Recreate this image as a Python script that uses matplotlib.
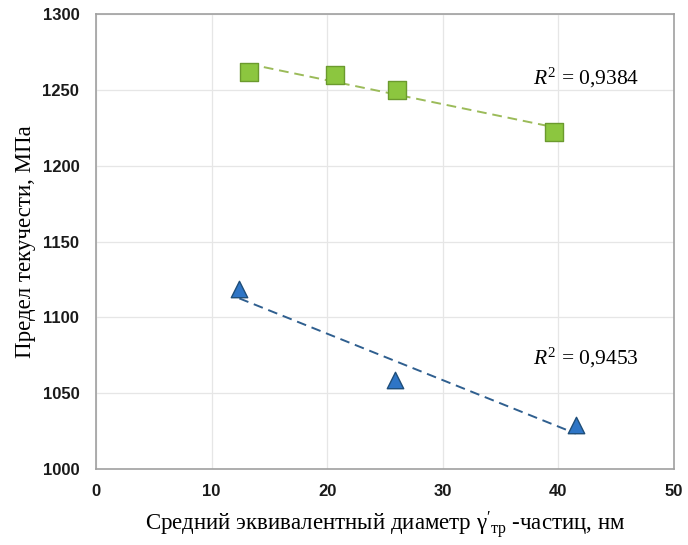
import numpy as np
import matplotlib
matplotlib.use("Agg")
import matplotlib.pyplot as plt

plt.rcParams["mathtext.fontset"] = "custom"
plt.rcParams["mathtext.rm"] = "Liberation Serif"
plt.rcParams["mathtext.it"] = "Liberation Serif:italic"

# Yield strength vs. mean equivalent diameter of gamma'-particles
green_x = [13.2, 20.7, 26.0, 39.6]
green_y = [1262, 1260, 1250, 1222.5]
green_r2 = "0,9384"

blue_x = [12.4, 25.9, 41.5]
blue_y = [1119, 1059, 1029]
blue_r2 = "0,9453"

x_ticks = [0, 10, 20, 30, 40, 50]
y_ticks = [1000, 1050, 1100, 1150, 1200, 1250, 1300]

fig = plt.figure(figsize=(6.88, 5.45), dpi=100)
ax = fig.add_axes([96 / 688, 1 - 469 / 545, (674 - 96) / 688, (469 - 14) / 545])

ax.set_xlim(0, 50)
ax.set_ylim(1000, 1300)
ax.set_xticks(x_ticks)
ax.set_yticks(y_ticks)
ax.grid(True, color="#e6e6e6", linewidth=0.9)
ax.set_axisbelow(True)
for s in ax.spines.values():
    s.set_color("#a0a0a0")
    s.set_linewidth(1.2)
ax.tick_params(axis="x", length=0, pad=11)
ax.tick_params(axis="y", length=0, pad=12)
for lab in ax.get_xticklabels() + ax.get_yticklabels():
    lab.set_fontfamily("Liberation Sans")
    lab.set_fontweight("bold")
    lab.set_fontsize(12)
    lab.set_color("#1a1a1a")

# linear trend lines
for xs, ys, col in [(green_x, green_y, "#9bbb59"), (blue_x, blue_y, "#2f5f8f")]:
    k, b = np.polyfit(xs, ys, 1)
    xx = np.array([min(xs), max(xs)])
    ax.plot(xx, k * xx + b, linestyle=(0, (5, 3)), color=col, linewidth=1.4, zorder=2)

ax.scatter(green_x, green_y, marker="s", s=150, facecolor="#8cc63f",
           edgecolor="#6b9a2e", linewidth=1.0, zorder=3)
ax.scatter(blue_x, blue_y, marker="^", s=140, facecolor="#2e75c6",
           edgecolor="#1f4e79", linewidth=1.0, zorder=3)

ax.text(37.8, 1258, r"$R^2$" + " = " + green_r2, fontsize=15.5,
        family="Liberation Serif", va="center", ha="left")
ax.text(37.8, 1073, r"$R^2$" + " = " + blue_r2, fontsize=15.5,
        family="Liberation Serif", va="center", ha="left")

ax.set_ylabel("Предел текучести, МПа", family="Liberation Serif", fontsize=16.5, labelpad=5)
ax.set_xlabel(r"Средний эквивалентный диаметр $\mathrm{γ}'_{\mathrm{тр}}$ -частиц, нм",
              family="Liberation Serif", fontsize=16.5, labelpad=7)

fig.savefig("out.png", dpi=100, facecolor="white")
